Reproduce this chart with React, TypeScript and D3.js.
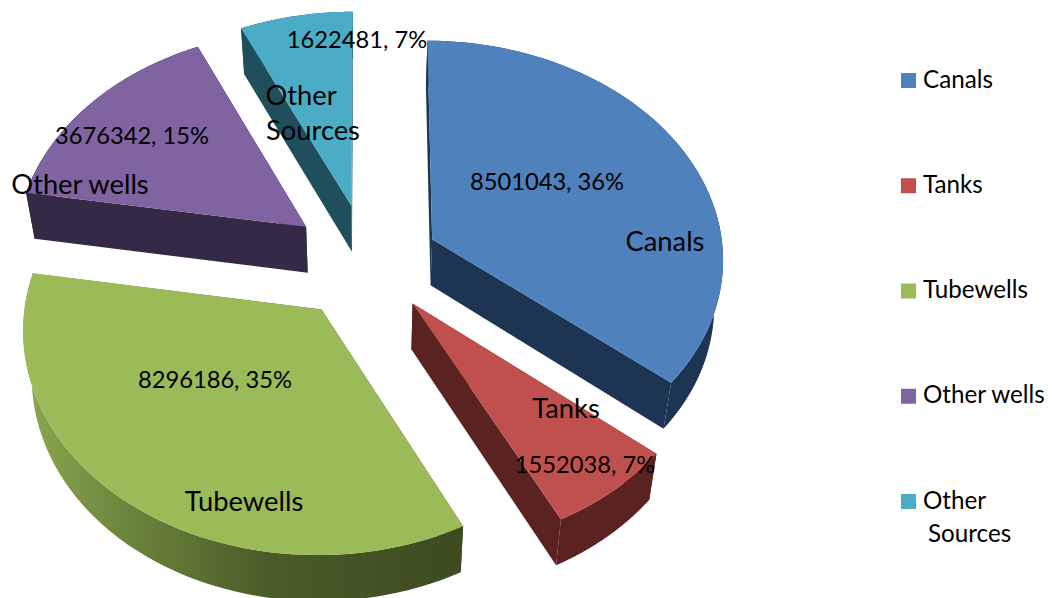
import React from "react";
import * as d3 from "d3";

// Irrigated area by source
const sources = ["Canals", "Tanks", "Tubewells", "Other wells", "Other Sources"];
const areas = [8501043, 1552038, 8296186, 3676342, 1622481];
const percents = [36, 7, 35, 15, 7];

// Per-slice styling and pull-out distance (fraction of the radius)
const topColors = ["#4f81bd", "#c0504d", "#9bbb59", "#8064a2", "#4bacc6"];
const wallColors = ["#1d3552", "#5a2321", "url(#tubeWall)", "#352a45", "#1f4e5c"];
const explode = [0.245, 0.24, 0.265, 0.27, 0.27];

// Hand-placed label anchors, as Excel's layout left them
const nameLabels: [string, number, number][] = [
  ["Canals", 665, 251],
  ["Tanks", 566, 418],
  ["Tubewells", 244, 511],
  ["Other wells", 80, 194],
];
const valueLabels: [number, number][] = [
  [547, 190],
  [585, 473],
  [215, 388],
  [132, 144],
  [357, 48],
];

const CX = 368;
const CY = 262;
const RX = 292;
const RY = 218;
const PERSPECTIVE = 0.08;
const DEPTH = 46;
const BOTTOM_SCALE = 0.975;

type Pt = [number, number];

function project(u: number, v: number): Pt {
  const s = 1 / (1 - PERSPECTIVE * v);
  return [CX + RX * u * s, CY + RY * v * s];
}

function lower([x, y]: Pt): Pt {
  return [CX + (x - CX) * BOTTOM_SCALE, y + DEPTH];
}

const pathOf = d3.line<Pt>().x((d) => d[0]).y((d) => d[1]);

export default function App() {
  const arcs = d3.pie<number>().sort(null).startAngle(0).endAngle(2 * Math.PI)(areas);

  const slices = arcs.map((arc, i) => {
    const mid = (arc.startAngle + arc.endAngle) / 2;
    const ou = Math.sin(mid) * explode[i];
    const ov = -Math.cos(mid) * explode[i];
    const apex = project(ou, ov);
    const steps = d3.range(0, 61).map((k) => arc.startAngle + ((arc.endAngle - arc.startAngle) * k) / 60);
    const rim = steps.map((a) => project(ou + Math.sin(a), ov - Math.cos(a)));
    const top = pathOf([apex, ...rim])! + "Z";
    const apexLow = lower(apex);
    const rimLow = rim.map(lower);
    const walls = [
      [apex, rim[0], rimLow[0], apexLow],
      [apex, rim[rim.length - 1], rimLow[rim.length - 1], apexLow],
      [...rim, ...rimLow.slice().reverse()],
    ].map((w) => pathOf(w as Pt[])! + "Z");
    return { top, walls, i };
  });

  const legendY = d3.scalePoint<string>().domain(sources).range([80.5, 501.5]);

  return (
    <svg
      width={1052}
      height={598}
      viewBox="0 0 1052 598"
      style={{ position: "absolute", left: 0, top: 0, display: "block", background: "#fff" }}
      fontFamily="Lato, 'Open Sans', sans-serif"
      fill="#000"
    >
      <defs>
        <linearGradient id="tubeWall" gradientUnits="userSpaceOnUse" x1={20} x2={470} y1={0} y2={0}>
          <stop offset="0" stopColor="#8daa50" />
          <stop offset="0.2" stopColor="#708a3f" />
          <stop offset="0.55" stopColor="#4a5c28" />
          <stop offset="1" stopColor="#3c4a20" />
        </linearGradient>
      </defs>

      {slices.map((s) => (
        <g key={sources[s.i]}>
          {s.walls.map((d, k) => (
            <path key={k} d={d} fill={wallColors[s.i]} />
          ))}
          <path d={s.top} fill={topColors[s.i]} />
        </g>
      ))}

      <g fontSize={27.3} textAnchor="middle">
        {nameLabels.map(([t, x, y]) => (
          <text key={t} x={x} y={y}>{t}</text>
        ))}
        <text x={301} y={105}>Other</text>
        <text x={313} y={140}>Sources</text>
      </g>

      <g fontSize={23.7} textAnchor="middle">
        {valueLabels.map(([x, y], i) => (
          <text key={i} x={x} y={y}>
            {`${areas[i]}, ${percents[i]}%`}
          </text>
        ))}
      </g>

      <g fontSize={24.2}>
        {sources.map((name, i) => {
          const y = legendY(name)!;
          return (
            <g key={name}>
              <rect x={901} y={y - 7.5} width={15} height={15} fill={topColors[i]} />
              {name === "Other Sources" ? (
                <>
                  <text x={923} y={y + 7}>Other</text>
                  <text x={928} y={y + 40}>Sources</text>
                </>
              ) : (
                <text x={923} y={y + 7}>{name}</text>
              )}
            </g>
          );
        })}
      </g>
    </svg>
  );
}
